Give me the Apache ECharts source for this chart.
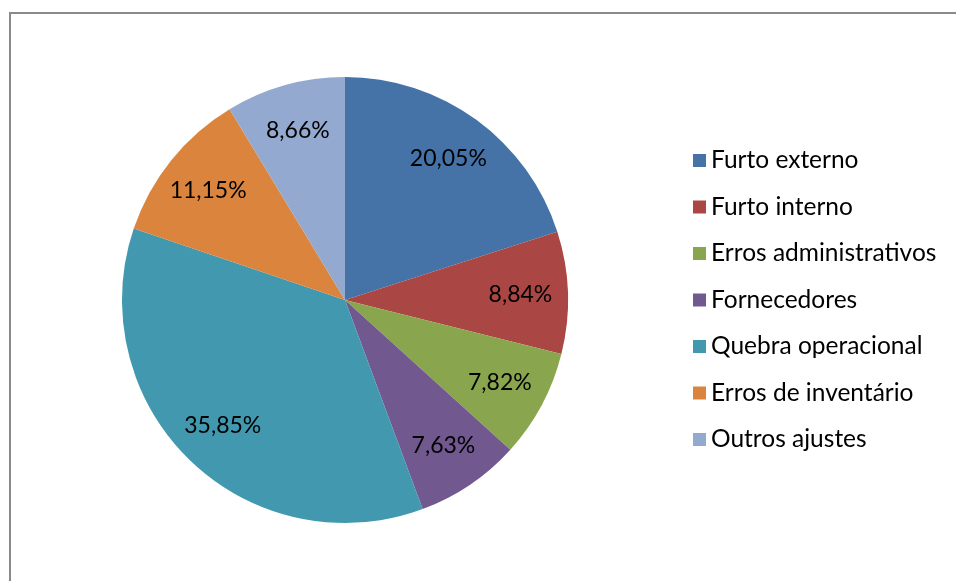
<!DOCTYPE html>
<html>
<head>
<meta charset="utf-8">
<script src="https://cdn.jsdelivr.net/npm/echarts@6/dist/echarts.min.js"></script>
<style>
  html, body { margin: 0; padding: 0; background: #fff; }
  #frame {
    position: absolute; left: 9px; top: 12px; width: 960px; height: 580px;
    border-left: 2px solid #8a8a8a; border-top: 2px solid #8a8a8a;
  }
  #chart { position: absolute; left: 0; top: 0; width: 956px; height: 581px; }
</style>
</head>
<body>
<div id="frame"></div>
<div id="chart"></div>
<script>
// categorias e valores (%)
const categories = ['Furto externo', 'Furto interno', 'Erros administrativos', 'Fornecedores',
  'Quebra operacional', 'Erros de inventário', 'Outros ajustes']
const values = [20.05, 8.84, 7.82, 7.63, 35.85, 11.15, 8.66]
const colors = ['#4572A7', '#AA4643', '#89A54E', '#71588F', '#4198AF', '#DB843D', '#93A9CF']

const pieData = categories.map((name, i) => ({ name, value: values[i], itemStyle: { color: colors[i] } }))
const fmt = p => p.value.toFixed(2).replace('.', ',') + '%'

const chart = echarts.init(document.getElementById('chart'))

chart.setOption({
  animation: false,
  legend: {
    orient: 'vertical',
    left: 693,
    top: 148,
    padding: 0,
    itemWidth: 13,
    itemHeight: 13,
    itemGap: 21.5,
    icon: 'rect',
    data: categories,
    textStyle: { fontFamily: 'Lato', fontSize: 24.5, color: '#000', lineHeight: 23 }
  },
  series: [
    {
      type: 'pie',
      center: [345, 300],
      radius: [0, 223],
      startAngle: 90,
      clockwise: true,
      silent: true,
      data: pieData,
      label: { show: false },
      labelLine: { show: false }
    },
    {
      // camada só para os rótulos, mais perto da borda
      type: 'pie',
      center: [345, 300],
      radius: [122, 223],
      startAngle: 90,
      clockwise: true,
      silent: true,
      legendHoverLink: false,
      data: categories.map((name, i) => ({ name, value: values[i] })),
      itemStyle: { color: 'rgba(0,0,0,0)' },
      label: {
        show: true,
        position: 'inside',
        formatter: fmt,
        fontFamily: 'Lato',
        fontSize: 23,
        color: '#000'
      },
      labelLine: { show: false }
    }
  ]
})
</script>
</body>
</html>
